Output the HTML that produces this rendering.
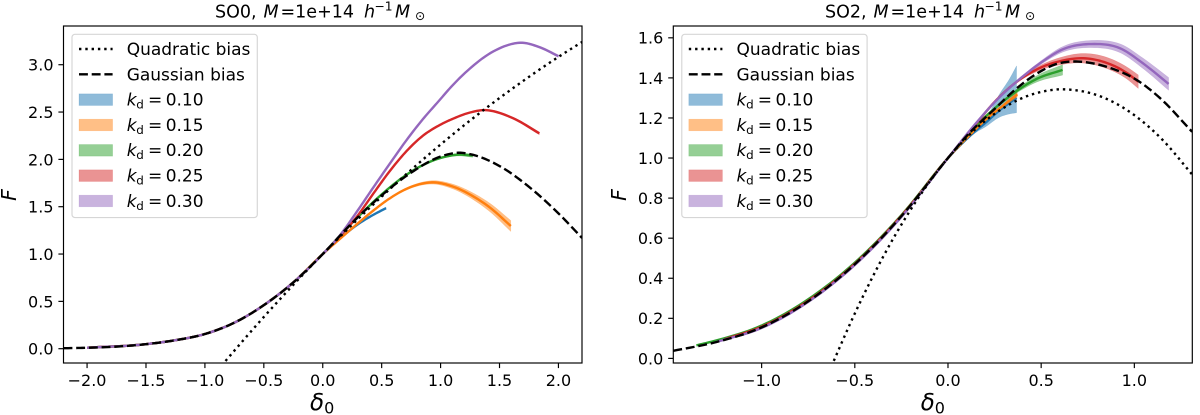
<!DOCTYPE html>
<html>
<head>
<meta charset="utf-8">
<title>SO0 and SO2 bias functions</title>
<style>
html,body{margin:0;padding:0;background:#fff;}
svg{display:block;}
text{font-family:"DejaVu Sans","Liberation Sans",sans-serif;fill:#000;}
</style>
</head>
<body>
<svg id="figure" xmlns="http://www.w3.org/2000/svg" width="1200" height="415" viewBox="0 0 1200 415"></svg>
<script>
// ---- Panel SO0 data ----
const so0QuadX = [-0.86,-0.6,-0.4,-0.2,0,0.25,0.5,0.75,1,1.25,1.5,1.75,2,2.2];
const so0QuadY = [-0.18,0.195,0.473,0.741,1,1.311,1.607,1.889,2.157,2.41,2.648,2.872,3.082,3.24];
const so0GaussX = [-2.2,-2,-1.75,-1.5,-1.25,-1,-0.75,-0.5,-0.25,0,0.25,0.5,0.75,1,1.15,1.25,1.5,1.75,2,2.2];
const so0GaussY = [0.005,0.01,0.022,0.048,0.09,0.155,0.275,0.46,0.7,1,1.33,1.62,1.86,2.03,2.07,2.055,1.93,1.71,1.43,1.17];
const so0K10X = [-2,-1.5,-1.25,-1,-0.75,-0.5,-0.25,0,0.15,0.317,0.43,0.537];
const so0K10Y = [0.01,0.048,0.09,0.155,0.275,0.46,0.7,1,1.17,1.33,1.415,1.485];
const so0K10Err = [0,0,0,0,0,0,0,0,0.002,0.005,0.008,0.012];
const so0K15X = [-2,-1.5,-1.25,-1,-0.75,-0.5,-0.25,0,0.15,0.289,0.43,0.571,0.713,0.925,1.1,1.276,1.42,1.596];
const so0K15Y = [0.01,0.048,0.09,0.155,0.275,0.46,0.7,1,1.165,1.315,1.46,1.59,1.69,1.757,1.715,1.61,1.49,1.296];
const so0K15Err = [0,0,0,0,0,0,0,0,0.002,0.004,0.006,0.008,0.012,0.018,0.025,0.035,0.045,0.058];
const so0K20X = [-2,-1.5,-1.25,-1,-0.75,-0.5,-0.25,0,0.25,0.5,0.75,1,1.15,1.273];
const so0K20Y = [0.01,0.048,0.09,0.155,0.275,0.46,0.7,1,1.33,1.63,1.87,2.015,2.05,2.04];
const so0K20Err = [0,0,0,0,0,0,0,0,0.002,0.004,0.006,0.01,0.014,0.018];
const so0K25X = [-2,-1.5,-1.25,-1,-0.75,-0.5,-0.25,0,0.147,0.289,0.43,0.571,0.713,0.85,0.996,1.106,1.25,1.39,1.615,1.838];
const so0K25Y = [0.01,0.048,0.09,0.155,0.275,0.46,0.7,1,1.19,1.394,1.64,1.88,2.09,2.25,2.365,2.43,2.495,2.52,2.435,2.275];
const so0K25Err = [0,0,0,0,0,0,0,0,0.002,0.003,0.004,0.004,0.005,0.005,0.006,0.007,0.008,0.01,0.012,0.015];
const so0K30X = [-2,-1.5,-1.25,-1,-0.75,-0.5,-0.25,0,0.147,0.289,0.43,0.571,0.713,0.85,0.98,1.1,1.222,1.447,1.675,1.85,2];
const so0K30Y = [0.01,0.048,0.09,0.155,0.275,0.46,0.7,1,1.2,1.447,1.705,1.958,2.207,2.425,2.61,2.78,2.93,3.14,3.232,3.18,3.09];
const so0K30Err = [0,0,0,0,0,0,0,0,0.001,0.002,0.003,0.004,0.004,0.005,0.006,0.006,0.007,0.008,0.01,0.012,0.014];
const so0XTicks = [-2,-1.5,-1,-0.5,0,0.5,1,1.5,2];
const so0YTicks = [0,0.5,1,1.5,2,2.5,3];

// ---- Panel SO2 data ----
const so2QuadX = [-0.64,-0.5,-0.4,-0.3,-0.2,-0.1,0,0.1,0.2,0.3,0.4,0.5,0.62,0.8,1,1.15,1.31];
const so2QuadY = [-0.07,0.224,0.415,0.588,0.743,0.88,1,1.102,1.186,1.251,1.30,1.33,1.343,1.314,1.214,1.092,0.918];
const so2GaussX = [-1.474,-1.25,-1,-0.75,-0.5,-0.25,0,0.1,0.25,0.369,0.494,0.6,0.708,0.869,1.012,1.137,1.31];
const so2GaussY = [0.038,0.08,0.155,0.285,0.47,0.71,1,1.11,1.245,1.348,1.431,1.474,1.481,1.45,1.39,1.30,1.131];
const so2K10X = [-0.5,-0.25,0,0.1,0.154,0.2,0.279,0.33,0.368];
const so2K10Y = [0.47,0.71,1,1.095,1.14,1.175,1.24,1.275,1.30];
const so2K10Lo = [0,0,0,0.003,0.01,0.02,0.035,0.055,0.074];
const so2K10Hi = [0,0,0,0.003,0.01,0.02,0.083,0.12,0.16];
const so2K15X = [-1,-0.75,-0.5,-0.25,0,0.1,0.2,0.3,0.372];
const so2K15Y = [0.157,0.287,0.472,0.712,1,1.10,1.19,1.265,1.318];
const so2K15Err = [0,0,0,0,0,0.001,0.003,0.008,0.014];
const so2K20X = [-1.35,-1.25,-1,-0.75,-0.5,-0.25,0,0.15,0.261,0.369,0.476,0.615];
const so2K20Y = [0.065,0.088,0.164,0.295,0.478,0.715,1,1.16,1.256,1.335,1.395,1.44];
const so2K20Err = [0,0,0,0,0,0,0,0.002,0.005,0.01,0.016,0.026];
const so2K25X = [-1.2,-1,-0.75,-0.5,-0.25,0,0.15,0.25,0.368,0.494,0.6,0.726,0.851,0.959,1.021];
const so2K25Y = [0.095,0.158,0.288,0.472,0.712,1,1.17,1.28,1.38,1.45,1.483,1.498,1.475,1.425,1.381];
const so2K25Err = [0,0,0,0,0,0,0.001,0.002,0.006,0.012,0.018,0.024,0.028,0.03,0.034];
const so2K30X = [-1.25,-1,-0.75,-0.5,-0.25,0,0.134,0.279,0.368,0.494,0.617,0.771,0.923,1.046,1.184];
const so2K30Y = [0.08,0.152,0.282,0.466,0.706,1,1.156,1.306,1.381,1.473,1.543,1.569,1.548,1.473,1.37];
const so2K30Err = [0,0,0,0,0,0,0.001,0.003,0.005,0.009,0.014,0.018,0.022,0.026,0.032];
const so2XTicks = [-1,-0.5,0,0.5,1];
const so2YTicks = [0,0.2,0.4,0.6,0.8,1,1.2,1.4,1.6];

const legendValues = ['0.10','0.15','0.20','0.25','0.30'];
const seriesColors = ['#1f77b4','#ff7f0e','#2ca02c','#d62728','#9467bd'];
const NS = 'http://www.w3.org/2000/svg';
const figure = document.getElementById('figure');

function make(tag, parent, attrs) {
  const el = document.createElementNS(NS, tag);
  for (const k in attrs) el.setAttribute(k, attrs[k]);
  parent.appendChild(el);
  return el;
}
// Monotone cubic resampling for a smooth curve through the tabulated values
function dense(xs, ys) {
  const n = xs.length, d = [], m = new Array(n).fill(0), out = [];
  for (let i = 0; i < n - 1; i++) d.push((ys[i + 1] - ys[i]) / (xs[i + 1] - xs[i]));
  m[0] = d[0]; m[n - 1] = d[n - 2];
  for (let i = 1; i < n - 1; i++) {
    if (d[i - 1] * d[i] <= 0) { m[i] = (d[i - 1] + d[i]) / 2; }
    else {
      const a = xs[i] - xs[i - 1], b = xs[i + 1] - xs[i];
      m[i] = (a * d[i] + b * d[i - 1]) / (a + b);
      m[i] = Math.sign(m[i]) * Math.min(Math.abs(m[i]), 3 * Math.abs(d[i - 1]), 3 * Math.abs(d[i]));
    }
  }
  for (let i = 0; i < n - 1; i++) {
    const h = xs[i + 1] - xs[i];
    for (let j = 0; j < 10; j++) {
      const t = j / 10, t2 = t * t, t3 = t2 * t;
      out.push([xs[i] + t * h,
        (2 * t3 - 3 * t2 + 1) * ys[i] + (t3 - 2 * t2 + t) * h * m[i] + (-2 * t3 + 3 * t2) * ys[i + 1] + (t3 - t2) * h * m[i + 1]]);
    }
  }
  out.push([xs[n - 1], ys[n - 1]]);
  return out;
}
function pathOf(points, sx, sy) {
  return points.map((p, i) => (i ? 'L' : 'M') + sx(p[0]).toFixed(2) + ' ' + sy(p[1]).toFixed(2)).join('');
}
function fmt(v) { return (v < 0 ? '\u2212' : '') + Math.abs(v).toFixed(1); }

function drawPanel(cfg) {
  const L = cfg.box[0], T = cfg.box[1], R = cfg.box[2], B = cfg.box[3];
  const sx = v => L + (v - cfg.xlim[0]) / (cfg.xlim[1] - cfg.xlim[0]) * (R - L);
  const sy = v => B - (v - cfg.ylim[0]) / (cfg.ylim[1] - cfg.ylim[0]) * (B - T);

  const panel = make('g', figure, {});
  
  

  const clipId = 'clip-' + cfg.id;
  const defs = make('defs', panel, {});
  const clip = make('clipPath', defs, { id: clipId });
  make('rect', clip, { x: L, y: T, width: R - L, height: B - T });

  const plot = make('g', panel, { 'clip-path': 'url(#' + clipId + ')' });
  
  

  cfg.series.forEach((s, i) => {
    const center = dense(s.x, s.y);
    const hi = dense(s.x, s.y.map((v, k) => v + (s.hi || s.err)[k]));
    const lo = dense(s.x, s.y.map((v, k) => v - (s.lo || s.err)[k]));
    const band = make('path', plot, {
      d: pathOf(hi.concat(lo.slice().reverse()), sx, sy) + 'Z',
      fill: seriesColors[i], 'fill-opacity': 0.5, stroke: seriesColors[i], 'stroke-opacity': 0.25, 'stroke-width': 0.5
    });
    
    
    const line = make('path', plot, {
      d: pathOf(center, sx, sy), fill: 'none', stroke: seriesColors[i], 'stroke-width': 2.4
    });
    
    
  });

  const quad = make('path', plot, {
    d: pathOf(dense(cfg.quadX, cfg.quadY), sx, sy), fill: 'none', stroke: '#000', 'stroke-width': 2.4, 'stroke-dasharray': '2.4 3.9'
  });
  
  
  const gauss = make('path', plot, {
    d: pathOf(dense(cfg.gaussX, cfg.gaussY), sx, sy), fill: 'none', stroke: '#000', 'stroke-width': 2.4, 'stroke-dasharray': '8.9 3.8'
  });
  
  

  const frame = make('rect', panel, { x: L, y: T, width: R - L, height: B - T, fill: 'none', stroke: '#000', 'stroke-width': 1.17 });
  
  

  cfg.xTicks.forEach(v => {
    const x = sx(v);
    const tick = make('line', panel, { x1: x, x2: x, y1: B, y2: B + 5.1, stroke: '#000', 'stroke-width': 1.17 });
    
    
    const label = make('text', panel, { x: x, y: B + 23, 'text-anchor': 'middle', 'font-size': 16 });
    label.textContent = fmt(v);
    
    
  });
  cfg.yTicks.forEach(v => {
    const y = sy(v);
    const tick = make('line', panel, { x1: L, x2: L - 5.1, y1: y, y2: y, stroke: '#000', 'stroke-width': 1.17 });
    
    
    const label = make('text', panel, { x: L - 10, y: y + 5.9, 'text-anchor': 'end', 'font-size': 16 });
    label.textContent = fmt(v);
    
    
  });

  // Title
  const tx0 = cfg.titleX;
  const title = make('text', panel, { y: 17.5, 'font-size': 17.5 });
  
  
  const tp = (txt, a) => { const t = make('tspan', title, a); t.textContent = txt; return t; };
  tp(cfg.name + ',', { x: tx0 });
  tp('M', { x: tx0 + 48.5, 'font-style': 'italic' });
  tp('=1e+14', { x: tx0 + 65.5 });
  tp('h', { x: tx0 + 149, 'font-style': 'italic' });
  tp('\u22121', { x: tx0 + 159.5, 'font-size': 12.3, dy: -7 });
  tp('M', { x: tx0 + 180, 'font-style': 'italic', dy: 7 });
  tp('\u2299', { x: tx0 + 200, 'font-size': 12.3, dy: 2.6 });

  // Axis labels
  const xl = make('text', panel, { x: cfg.xLabelX, y: 410, 'font-size': 23 });
  
  
  const d1 = make('tspan', xl, { 'font-style': 'italic' });
  d1.textContent = '\u03b4';
  const d2 = make('tspan', xl, { 'font-size': 16, dy: 3.5 });
  d2.textContent = '0';
  const yl = make('text', panel, {
    x: 0, y: 0, 'font-size': 20.4, 'font-style': 'italic', 'text-anchor': 'middle',
    transform: 'translate(' + cfg.yLabelX + ',195) rotate(-90)'
  });
  yl.textContent = 'F';
  
  

  // Legend
  const ox = L + 8.5;
  const legend = make('g', panel, {});
  
  
  make('rect', legend, { x: ox, y: 34.3, width: 185.3, height: 183.3, rx: 3, ry: 3, fill: '#fff', 'fill-opacity': 0.8, stroke: '#ccc', 'stroke-opacity': 0.8, 'stroke-width': 1.17 });
  const hx1 = ox + 7, hx2 = ox + 40.6, tx = ox + 54.7;
  const ly = i => 49 + i * 25.33;
  const q = make('line', legend, { x1: hx1, x2: hx2, y1: ly(0), y2: ly(0), stroke: '#000', 'stroke-width': 2.4, 'stroke-dasharray': '2.4 3.9' });
  
  
  const qt = make('text', legend, { x: tx, y: ly(0) + 6, 'font-size': 17 });
  qt.textContent = 'Quadratic bias';
  
  
  const g = make('line', legend, { x1: hx1, x2: hx2, y1: ly(1), y2: ly(1), stroke: '#000', 'stroke-width': 2.4, 'stroke-dasharray': '8.9 3.8' });
  
  
  const gt = make('text', legend, { x: tx, y: ly(1) + 6, 'font-size': 17 });
  gt.textContent = 'Gaussian bias';
  
  
  legendValues.forEach((val, i) => {
    const y = ly(i + 2);
    const swatch = make('rect', legend, { x: hx1, y: y - 5.8, width: hx2 - hx1, height: 11.6, fill: seriesColors[i], 'fill-opacity': 0.5, stroke: seriesColors[i], 'stroke-opacity': 0.25, 'stroke-width': 0.6 });
    
    
    const t = make('text', legend, { y: y + 5.8, 'font-size': 17 });
    
    
    const a = make('tspan', t, { x: tx, 'font-style': 'italic' }); a.textContent = 'k';
    const b = make('tspan', t, { x: tx + 9.6, dy: 3, 'font-size': 11.9 }); b.textContent = 'd';
    const c = make('tspan', t, { x: tx + 21.3, dy: -3 }); c.textContent = '=';
    const e = make('tspan', t, { x: tx + 39 }); e.textContent = val;
  });
}

drawPanel({
  id: 'so0', name: 'SO0', box: [63.5, 26, 582, 363], xlim: [-2.2, 2.2], ylim: [-0.151, 3.409],
  xTicks: so0XTicks, yTicks: so0YTicks, titleX: 215, xLabelX: 310, yLabelX: 16,
  quadX: so0QuadX, quadY: so0QuadY, gaussX: so0GaussX, gaussY: so0GaussY,
  series: [
    { x: so0K10X, y: so0K10Y, err: so0K10Err },
    { x: so0K15X, y: so0K15Y, err: so0K15Err },
    { x: so0K20X, y: so0K20Y, err: so0K20Err },
    { x: so0K25X, y: so0K25Y, err: so0K25Err },
    { x: so0K30X, y: so0K30Y, err: so0K30Err }
  ]
});
drawPanel({
  id: 'so2', name: 'SO2', box: [673.3, 26, 1192.3, 363], xlim: [-1.474, 1.311], ylim: [-0.023, 1.659],
  xTicks: so2XTicks, yTicks: so2YTicks, titleX: 825, xLabelX: 920.7, yLabelX: 626,
  quadX: so2QuadX, quadY: so2QuadY, gaussX: so2GaussX, gaussY: so2GaussY,
  series: [
    { x: so2K10X, y: so2K10Y, lo: so2K10Lo, hi: so2K10Hi },
    { x: so2K15X, y: so2K15Y, err: so2K15Err },
    { x: so2K20X, y: so2K20Y, err: so2K20Err },
    { x: so2K25X, y: so2K25Y, err: so2K25Err },
    { x: so2K30X, y: so2K30Y, err: so2K30Err }
  ]
});
</script>
</body>
</html>
